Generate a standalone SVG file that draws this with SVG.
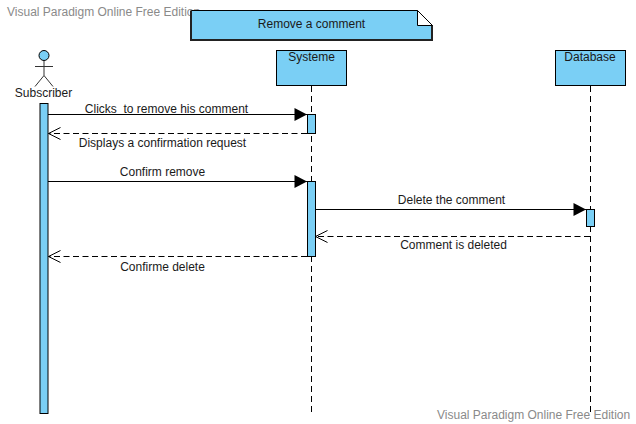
<svg xmlns="http://www.w3.org/2000/svg" width="636" height="424" viewBox="0 0 636 424">
<style>
text{font-family:"Liberation Sans",Arial,sans-serif;font-size:12px;fill:#1a1a1a;text-anchor:middle;white-space:pre}
.wm{fill:#8a8a8a;text-anchor:start}
.b{fill:#7acff5;stroke:#000;stroke-width:1}
.m{fill:none;stroke:#000;stroke-width:1}
.d{fill:none;stroke:#000;stroke-width:1;stroke-dasharray:6 3.5}
.ll{fill:none;stroke:#000;stroke-width:1;stroke-dasharray:6 4}
</style>
<defs>
<marker id="solid" markerUnits="userSpaceOnUse" markerWidth="14" markerHeight="14" refX="13" refY="7" orient="auto"><path d="M0.500 0.500L13 7L0.500 13.500Z" fill="#000"/></marker>
<marker id="open" markerUnits="userSpaceOnUse" markerWidth="14" markerHeight="14" refX="13" refY="7" orient="auto"><path d="M1 1L13 7L1 13" fill="none" stroke="#000"/></marker>
</defs>
<text class="wm" x="7" y="16">Visual Paradigm Online Free Edition</text>
<g id="frame">
<path d="M191.500 10.500H417.500L432.500 25.500V40.500H191.500Z" class="b"/>
<path d="M191 10.500V40H432V25.500" fill="none" stroke="#222" stroke-width="2"/>
<path d="M417.500 10.500L432.500 25.500H417.500Z" fill="#fff" stroke="#000"/>
<text x="311.500" y="28">Remove a comment</text>
</g>
<g id="connectors">
<path class="ll" d="M311.500 86V412"/>
<path class="ll" d="M590.500 86V412"/>
<path class="m" d="M48 114.500H307" marker-end="url(#solid)"/>
<path class="d" d="M307 133.500H48.500" marker-end="url(#open)"/>
<path class="m" d="M48 181.500H307" marker-end="url(#solid)"/>
<path class="m" d="M315 209.500H586" marker-end="url(#solid)"/>
<path class="d" d="M590 236.500H315.500" marker-end="url(#open)"/>
<path class="d" d="M307 256.500H48.500" marker-end="url(#open)"/>
<text x="166.500" y="113">Clicks  to remove his comment</text>
<text x="162.500" y="147">Displays a confirmation request</text>
<text x="162.500" y="176">Confirm remove</text>
<text x="451.500" y="204">Delete the comment</text>
<text x="453.500" y="249">Comment is deleted</text>
<text x="162.500" y="271">Confirme delete</text>
</g>
<g id="subscriber">
<circle class="b" cx="44" cy="55.500" r="5"/>
<path d="M44 61V75.500M35 66.500H53M35 86.500L44 75.500L53 86.500" fill="none" stroke="#333"/>
<text x="43.500" y="97">Subscriber</text>
<rect x="40" y="103.500" width="8" height="310" class="b"/>
</g>
<g id="systeme">
<rect x="276.500" y="50.500" width="70" height="35" class="b"/>
<text x="311.500" y="61">Systeme</text>
<rect x="307.500" y="114.500" width="8" height="19" class="b"/>
<rect x="307.500" y="181.500" width="8" height="75" class="b"/>
</g>
<g id="database">
<rect x="555.500" y="50.500" width="70" height="35" class="b"/>
<text x="590" y="61">Database</text>
<rect x="586.500" y="209.500" width="8" height="17" class="b"/>
</g>
<text class="wm" x="437" y="419">Visual Paradigm Online Free Edition</text>
</svg>
